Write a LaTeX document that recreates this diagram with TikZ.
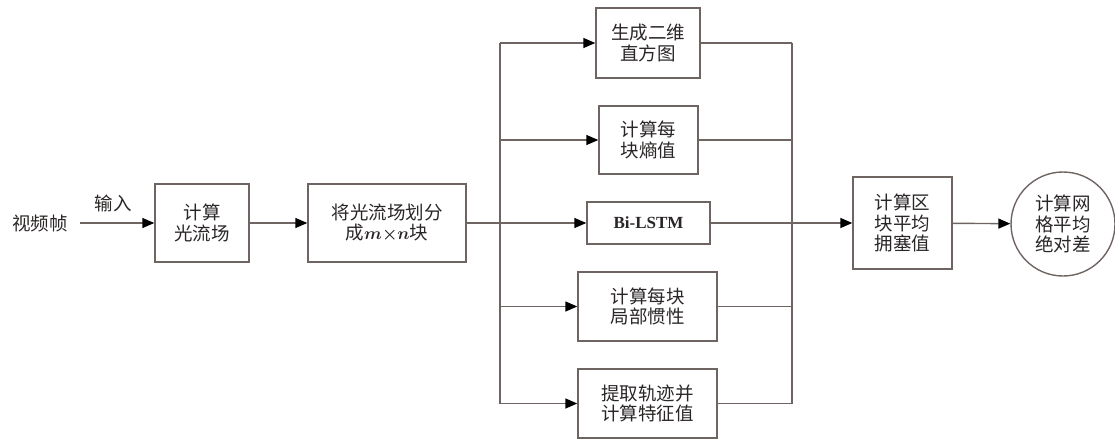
\documentclass[tikz,border=0pt]{standalone}
\usepackage{fontspec}
\setmainfont{Liberation Serif}
\newfontfamily\cjk{Noto Sans CJK SC}
\usetikzlibrary{arrows.meta}
\definecolor{ln}{HTML}{6E6562}
\definecolor{tx}{HTML}{2A2626}
\tikzset{
  box/.style={draw=ln, line width=1.4pt, align=center, inner sep=0pt, text=tx, font=\cjk\fontsize{18.5}{20.5}\selectfont},
  circ/.style={draw=ln, line width=1.4pt, circle, align=center, inner sep=0pt, text=tx, font=\cjk\fontsize{18.5}{20.5}\selectfont, minimum size=104pt},
  conn/.style={draw=ln, line width=1.4pt},
  arr/.style={conn, -{Triangle[length=12pt,width=10pt,color=black]}},
  lbl/.style={text=tx, font=\cjk\fontsize{18.5}{20.5}\selectfont, inner sep=0pt}
}
\begin{document}
\begin{tikzpicture}[x=1pt,y=-1pt]
\useasboundingbox (0,0) rectangle (1115,441);
\node[lbl] (src) at (40,223) {视频帧};
\node[box, minimum width=94pt, minimum height=78pt] (b1) at (202,223) {计算\\光流场};
\node[box, minimum width=158pt, minimum height=78pt] (b2) at (387,223) {将光流场划分\\成{\boldmath$m{\times}n$}块};
\node[box, minimum width=104pt, minimum height=70pt] (ba) at (648,43) {生成二维\\直方图};
\node[box, minimum width=99pt, minimum height=68pt] (bb) at (648.5,140) {计算每\\块熵值};
\node[box, minimum width=123pt, minimum height=42pt, font=\rmfamily\bfseries\fontsize{17}{20}\selectfont] (bc) at (648.5,223) {Bi-LSTM};
\node[box, minimum width=139pt, minimum height=69pt] (bd) at (647.5,306.5) {计算每块\\局部惯性};
\node[box, minimum width=139pt, minimum height=69pt] (be) at (647.5,403.5) {提取轨迹并\\计算特征值};
\node[box, minimum width=99pt, minimum height=92pt] (bf) at (902.5,223) {计算区\\块平均\\拥塞值};
\node[circ] (cg) at (1063,224) {计算网\\格平均\\绝对差};
\coordinate (sl) at (500,223);
\coordinate (st) at (500,43);
\coordinate (sb) at (500,403.5);
\coordinate (jt) at (792,43);
\coordinate (jb) at (792,403.5);
\coordinate (jm) at (792,223);
\draw[arr] (src.east) ++(12,0) coordinate (s0) -- (b1.west) node[lbl, pos=0.45, above=10pt] (inp) {输入};
\draw[arr] (b1) -- (b2);
\draw[conn] (b2.east) -- (sl);
\draw[conn] (st) -- (sb);
\draw[arr] (st) -- (ba.west);
\draw[arr] (500,140) coordinate (s2) -- (bb.west);
\draw[arr] (sl) -- (bc.west);
\draw[arr] (500,306.5) coordinate (s4) -- (bd.west);
\draw[arr] (sb) -- (be.west);
\draw[conn] (ba.east) -- (jt);
\draw[conn] (bb.east) -- (792,140) coordinate (j2);
\draw[conn] (bd.east) -- (792,306.5) coordinate (j4);
\draw[conn] (be.east) -- (jb);
\draw[conn] (jt) -- (jb);
\draw[conn] (bc.east) -- (jm);
\draw[arr] (jm) -- (bf.west);
\draw[arr] (bf) -- (cg);
\end{tikzpicture}
\end{document}
